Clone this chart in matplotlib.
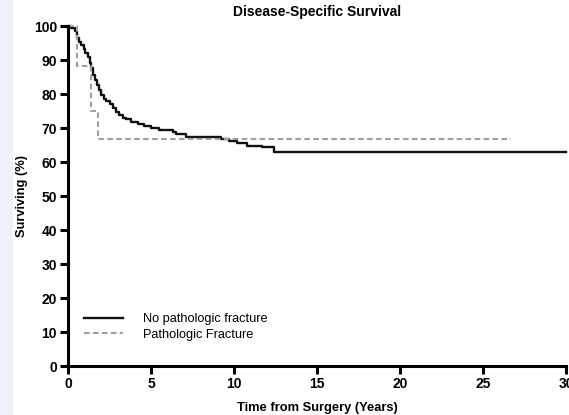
import matplotlib.pyplot as plt
from matplotlib.patches import Rectangle

# Kaplan-Meier step data (time in years, survival in %)
no_fx_t = [0, 0.2, 0.4, 0.55, 0.65, 0.8, 0.95, 1.05, 1.2, 1.3, 1.4, 1.5, 1.6, 1.75, 1.85, 2.0, 2.15,
           2.3, 2.5, 2.7, 2.9, 3.1, 3.3, 3.5, 3.8, 4.2, 4.6, 5.0, 5.5, 6.3, 6.5, 7.1, 9.2, 9.7,
           10.2, 10.8, 11.7, 12.4, 30]
no_fx_s = [100, 99.3, 98.5, 96.5, 95.4, 94.5, 93.2, 92.2, 90.8, 89.2, 87.6, 85.5, 84.2, 82.5, 81.2,
           79.8, 78.6, 77.8, 77.0, 75.8, 74.6, 73.8, 73.0, 72.5, 71.8, 71.2, 70.6, 70.0, 69.4,
           68.8, 68.2, 67.3, 66.9, 66.2, 65.6, 64.8, 64.3, 63.0, 63.0]

fx_t = [0, 0.55, 1.4, 1.8, 26.7]
fx_s = [100, 88.2, 75.0, 66.7, 66.7]

labels = ['No pathologic fracture', 'Pathologic Fracture']

plt.rcParams['font.family'] = ['Liberation Sans', 'DejaVu Sans']

fig = plt.figure(figsize=(5.69, 4.15), dpi=100)
# light band at the left edge of the screenshot
fig.patches.append(Rectangle((0, 0), 13 / 569, 1, transform=fig.transFigure,
                             facecolor='#eef2fb', edgecolor='none', zorder=-1))
ax = fig.add_axes([68 / 569, 49 / 415, 498 / 569, 340 / 415])

ax.step(no_fx_t, no_fx_s, where='post', color='#111111', lw=1.7, label=labels[0], clip_on=False)
ax.step(fx_t, fx_s, where='post', color='#a0a0a0', lw=1.5, ls=(0, (2.7, 1.6)), label=labels[1], clip_on=False)

ax.set_xlim(0, 30)
ax.set_ylim(0, 100)
ax.set_xticks([0, 5, 10, 15, 20, 25, 30])
ax.set_yticks(range(0, 101, 10))

for s in ['top', 'right']:
    ax.spines[s].set_visible(False)
for s in ['left', 'bottom']:
    ax.spines[s].set_linewidth(2.2)
ax.tick_params(width=2.2, length=6, labelsize=10, pad=2)
for lab in ax.get_xticklabels() + ax.get_yticklabels():
    lab.set_fontweight('bold')

ax.set_title('Disease-Specific Survival', fontsize=10, fontweight='bold', pad=7)
ax.set_xlabel('Time from Surgery (Years)', fontsize=9.3, fontweight='bold', labelpad=8)
ax.set_ylabel('Surviving (%)', fontsize=9.3, fontweight='bold', labelpad=4)

ax.legend(loc='lower left', bbox_to_anchor=(0.01, 0.04), frameon=False, fontsize=9.2,
          handlelength=3.0, handletextpad=1.6, labelspacing=0.3)

fig.savefig('out.png', dpi=100)
